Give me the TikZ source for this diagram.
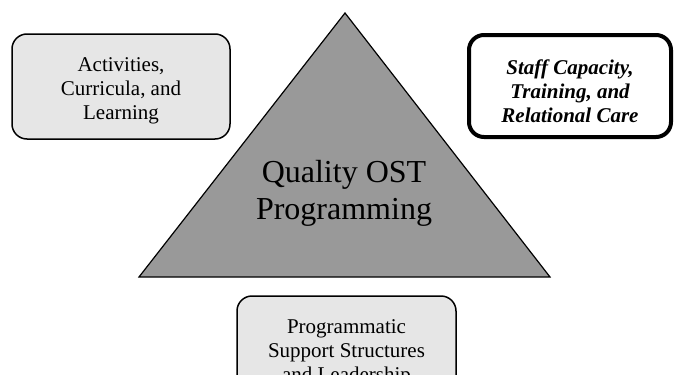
\documentclass[tikz,border=0pt]{standalone}
\usepackage{fontspec}
\setmainfont{Liberation Serif}
\usetikzlibrary{shapes.geometric}
\definecolor{lightbox}{HTML}{E6E6E6}
\definecolor{trigray}{HTML}{999999}
\begin{document}
\begin{tikzpicture}[x=1pt,y=-1pt,
  boxtext/.style={font=\fontsize{21}{24}\selectfont, align=center},
  grayboxstyle/.style={draw=black, line width=1.5pt, fill=lightbox, rounded corners=15pt},
  whiteboxstyle/.style={draw=black, line width=4pt, fill=white, rounded corners=15pt}]
\clip (0,0) rectangle (678,375);
\useasboundingbox (0,0) rectangle (678,375);
\fill[white] (0,0) rectangle (678,375);
% triangle
\coordinate (apex) at (345,13);
\coordinate (bl) at (139,277);
\coordinate (br) at (550,277);
\draw[fill=trigray, line width=1.2pt, line join=miter] (apex) -- (br) -- (bl) -- cycle;
\node[font=\fontsize{32}{37}\selectfont, align=center] (center) at (344,193) {Quality OST\\Programming};
% left box
\draw[grayboxstyle] (12,34) rectangle (230,139);
\node[boxtext] (left) at (121,91) {Activities,\\Curricula, and\\Learning};
% right box
\draw[whiteboxstyle] (469,35) rectangle (671,137);
\node[boxtext, font=\fontsize{21}{24}\selectfont\bfseries\itshape] (right) at (570,91) {Staff Capacity,\\Training, and\\Relational Care};
% bottom box
\draw[grayboxstyle] (237,296) rectangle (456,401);
\node[boxtext] (bottom) at (346.5,353) {Programmatic\\Support Structures\\and Leadership};
\end{tikzpicture}
\end{document}
